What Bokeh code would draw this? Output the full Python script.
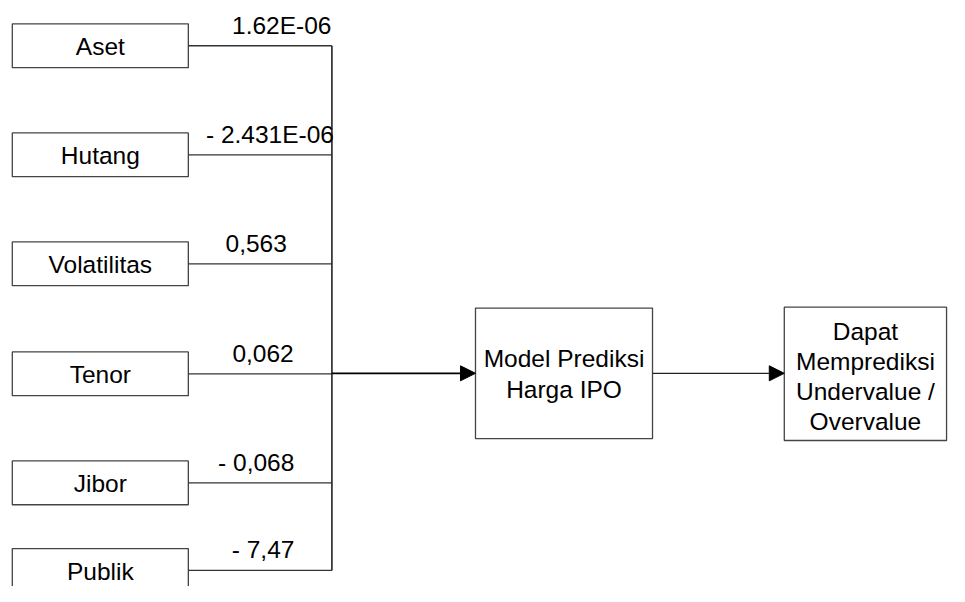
from bokeh.plotting import figure
from bokeh.models import Range1d, Arrow, NormalHead
from bokeh.core.properties import value
from bokeh.embed import file_html
from bokeh.resources import INLINE

# ---- data ----
variables = ["Aset", "Hutang", "Volatilitas", "Tenor", "Jibor", "Publik"]
coefficients = ["1.62E-06", "- 2.431E-06", "0,563", "0,062", "- 0,068", "- 7,47"]
model_lines = ["Model Prediksi", "Harga IPO"]
result_lines = ["Dapat", "Memprediksi", "Undervalue /", "Overvalue"]

# ---- layout (reference pixel coordinates) ----
FONT = value("Liberation Sans")
FS = "24.5px"
W, H = 949, 586
p = figure(width=W, height=H, output_backend="svg", toolbar_location=None,
           x_range=Range1d(0, 965), y_range=Range1d(602, 0),
           min_border=0, outline_line_color=None)
p.axis.visible = False
p.grid.visible = False

box_l, box_r, box_h = 12, 191, 45
bus_x = 337
tops = [24, 136, 248, 361, 473, 563]
mids = [t + box_h / 2 for t in tops]
n = len(variables)

p.quad(left=[box_l] * n, right=[box_r] * n,
       top=tops, bottom=[t + box_h for t in tops],
       fill_color="white", line_color="#444444", line_width=1.3)
p.text(x=[(box_l + box_r) / 2] * n, y=[m + 1 for m in mids], text=variables,
       text_font=FONT, text_font_size=FS, text_align="center",
       text_baseline="middle", text_color="black")

# connectors
p.segment(x0=[box_r] * n, y0=mids, x1=[bus_x] * n, y1=mids,
          line_color="#333333", line_width=1.3)
p.segment(x0=[bus_x], y0=[mids[0]], x1=[bus_x], y1=[mids[-1]],
          line_color="#222222", line_width=1.6)

# coefficient labels
lab_x = [286, 274, 260, 267, 260, 267]
p.text(x=lab_x, y=[m - 21 for m in mids], text=coefficients,
       text_font=FONT, text_font_size=FS, text_align="center",
       text_baseline="middle", text_color="black")

# model box
mb_l, mb_r, mb_t, mb_b = 483, 663, 316, 450
p.quad(left=[mb_l], right=[mb_r], top=[mb_t], bottom=[mb_b],
       fill_color="white", line_color="#444444", line_width=1.3)
arrow_y = 383
p.text(x=[(mb_l + mb_r) / 2] * 2, y=[arrow_y - 15, arrow_y + 17], text=model_lines,
       text_font=FONT, text_font_size=FS, text_align="center",
       text_baseline="middle", text_color="black")

# result box
rb_l, rb_r, rb_t, rb_b = 797, 962, 315, 452
p.quad(left=[rb_l], right=[rb_r], top=[rb_t], bottom=[rb_b],
       fill_color="white", line_color="#444444", line_width=1.3)
p.text(x=[(rb_l + rb_r) / 2] * 4, y=[340 + i * 31 for i in range(4)], text=result_lines,
       text_font=FONT, text_font_size=FS, text_align="center",
       text_baseline="middle", text_color="black")

# arrows
p.add_layout(Arrow(x_start=bus_x, y_start=arrow_y, x_end=mb_l, y_end=arrow_y,
                   line_color="black", line_width=1.8,
                   end=NormalHead(size=15, fill_color="black", line_color="black")))
p.add_layout(Arrow(x_start=mb_r, y_start=arrow_y, x_end=rb_l, y_end=arrow_y,
                   line_color="#222222", line_width=1.3,
                   end=NormalHead(size=15, fill_color="black", line_color="black")))

open("out.html", "w").write(file_html(p, INLINE))
